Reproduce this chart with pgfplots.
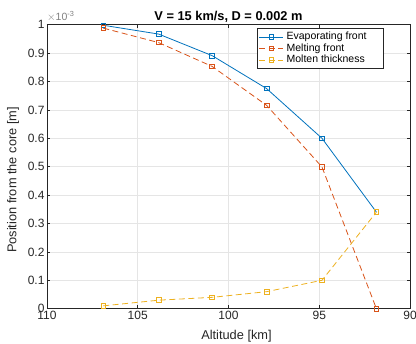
\documentclass[border=0pt]{standalone}
\usepackage{fontspec}
\setmainfont{Liberation Sans}
\usepackage{pgfplots}
\pgfplotsset{compat=1.18}
\definecolor{mblue}{rgb}{0,0.447,0.741}
\definecolor{morange}{rgb}{0.85,0.325,0.098}
\definecolor{myellow}{rgb}{0.929,0.694,0.125}
\definecolor{axgray}{rgb}{0.15,0.15,0.15}
\begin{document}
\begin{tikzpicture}
\begin{axis}[
  scale only axis, width=363pt, height=284pt,
  x dir=reverse, xmin=90, xmax=110, ymin=0, ymax=1,
  xtick={90,95,100,105,110}, ytick={0,0.1,0.2,0.3,0.4,0.5,0.6,0.7,0.8,0.9,1},
  yticklabel style={/pgf/number format/fixed, xshift=1pt},
  xticklabel style={yshift=1pt},
  /pgf/number format/assume math mode=true,
  tick label style={text=axgray, font=\fontsize{12}{13}\selectfont},
  axis line style={axgray, line width=0.5pt},
  tick style={axgray, line width=0.5pt},
  tick align=inside, major tick length=3.5pt,
  grid=major, grid style={gray!20, line width=0.5pt},
  xlabel={Altitude [km]}, ylabel={Position from the core [m]},
  label style={font=\fontsize{12.8}{14}\selectfont, text=axgray},
  xlabel style={at={(rel axis cs:0.522,0)}, anchor=center, yshift=-27pt},
  ylabel style={at={([xshift=-34pt]rel axis cs:0,0.453)}, anchor=center},
  title={\bfseries V = 15 km/s, D = 0.002 m}, title style={yshift=-7pt, font=\fontsize{12.8}{14}\selectfont},
  legend style={at={(0.928,0.988)}, anchor=north east, draw=axgray, line width=0.5pt, font=\fontsize{10.5}{12}\selectfont, row sep=-1.6pt, inner sep=2pt, nodes={inner xsep=3pt}},
  legend cell align=left,
  legend image code/.code={\draw[mark repeat=2,mark phase=2,#1] plot coordinates {(0cm,0cm) (0.42cm,0cm) (0.84cm,0cm)};},
  every axis plot/.append style={line width=0.8pt, mark size=2.3pt, mark options={solid}},
  clip=false,
]
\addplot[mblue, mark=square] coordinates {(106.9,0.998) (103.85,0.967) (100.9,0.891) (97.9,0.775) (94.85,0.600) (91.85,0.340)};
\addplot[morange, mark=square, dash pattern=on 6pt off 3.5pt] coordinates {(106.9,0.988) (103.85,0.937) (100.9,0.853) (97.9,0.716) (94.85,0.499) (91.85,0.0)};
\addplot[myellow, mark=square, dash pattern=on 6pt off 3.5pt] coordinates {(106.9,0.010) (103.85,0.030) (100.9,0.040) (97.9,0.060) (94.85,0.100) (91.85,0.340)};
\legend{Evaporating front\hspace*{12pt}, Melting front, Molten thickness}
\node[anchor=south west, text=gray, font=\fontsize{10.5}{11}\selectfont, inner sep=0pt] at ([xshift=0pt,yshift=3pt]rel axis cs:0,1) {$\times$10\textsuperscript{-3}};
\end{axis}
\pgfresetboundingbox
\path ([xshift=-47pt,yshift=-35.3pt]current axis.south west) rectangle ([xshift=6pt,yshift=24.7pt]current axis.north east);
\end{tikzpicture}
\end{document}
